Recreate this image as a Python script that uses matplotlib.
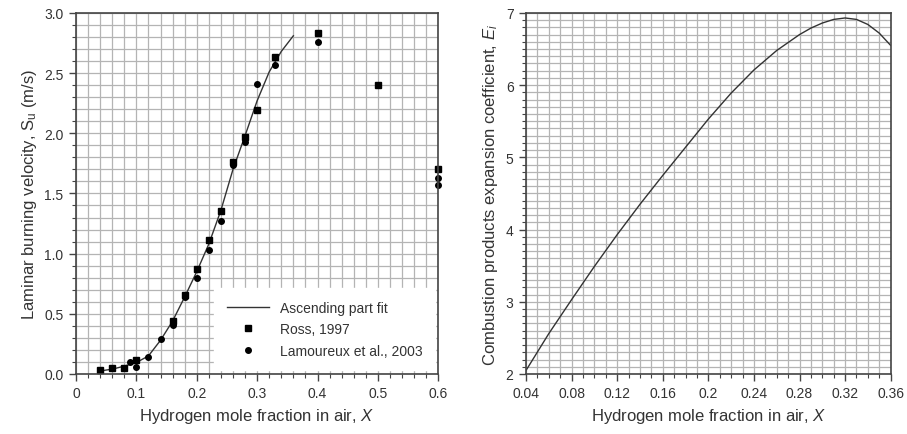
import numpy as np
import matplotlib.pyplot as plt
from matplotlib.ticker import MultipleLocator

plt.rcParams['font.family'] = 'Liberation Sans'
plt.rcParams['mathtext.fontset'] = 'custom'
plt.rcParams['mathtext.rm'] = 'Liberation Sans'
plt.rcParams['mathtext.it'] = 'Liberation Sans:italic'
plt.rcParams['text.color'] = '#333333'
plt.rcParams['axes.labelcolor'] = '#333333'
plt.rcParams['xtick.labelcolor'] = '#333333'
plt.rcParams['ytick.labelcolor'] = '#333333'

# left panel: laminar burning velocity
fit_x = [0.04, 0.06, 0.08, 0.10, 0.12, 0.14, 0.16, 0.18, 0.20, 0.22, 0.24, 0.26, 0.28, 0.30, 0.32, 0.34, 0.36]
fit_su = [0.025, 0.04, 0.065, 0.095, 0.15, 0.28, 0.44, 0.64, 0.85, 1.08, 1.36, 1.70, 1.98, 2.27, 2.51, 2.68, 2.81]

ross_x = [0.04, 0.06, 0.08, 0.10, 0.16, 0.18, 0.20, 0.22, 0.24, 0.26, 0.28, 0.30, 0.33, 0.40, 0.50, 0.60]
ross_su = [0.03, 0.05, 0.05, 0.115, 0.44, 0.66, 0.87, 1.11, 1.35, 1.76, 1.97, 2.19, 2.63, 2.83, 2.40, 1.70]

lam_x = [0.09, 0.10, 0.12, 0.14, 0.16, 0.18, 0.20, 0.22, 0.24, 0.26, 0.28, 0.30, 0.33, 0.40, 0.60, 0.60]
lam_su = [0.10, 0.06, 0.14, 0.29, 0.41, 0.64, 0.80, 1.03, 1.27, 1.74, 1.93, 2.41, 2.57, 2.76, 1.63, 1.57]

# right panel: expansion coefficient
ei_x = [0.04, 0.06, 0.08, 0.10, 0.12, 0.14, 0.16, 0.18, 0.20, 0.22, 0.24, 0.26, 0.28, 0.29, 0.30,
        0.31, 0.32, 0.33, 0.34, 0.35, 0.36]
ei = [2.05, 2.56, 3.03, 3.49, 3.93, 4.35, 4.75, 5.14, 5.53, 5.89, 6.21, 6.48, 6.70, 6.79, 6.86,
      6.91, 6.93, 6.91, 6.84, 6.72, 6.55]

grid_col = '#b4b4b4'
spine_col = '#444444'

fig = plt.figure(figsize=(9.07, 4.35), dpi=100)
ax1 = fig.add_axes([0.0838, 0.138, 0.3994, 0.83])
ax2 = fig.add_axes([0.58, 0.138, 0.402, 0.83])


def style(ax):
    ax.grid(which='both', color=grid_col, linewidth=0.9)
    ax.set_axisbelow(True)
    for s in ax.spines.values():
        s.set_color(spine_col)
        s.set_linewidth(1.2)
    ax.tick_params(which='major', direction='out', length=5, width=1, color=spine_col, labelsize=10, pad=4)
    ax.tick_params(which='minor', direction='out', length=3, width=0.8, color=spine_col)


ax1.plot(fit_x, fit_su, color='#333333', lw=1.0, label='Ascending part fit')
ax1.plot(ross_x, ross_su, 's', color='black', ms=4, label='Ross, 1997', clip_on=False)
ax1.plot(lam_x, lam_su, 'o', color='black', ms=4, label='Lamoureux et al., 2003', clip_on=False)
ax1.set_xlim(0, 0.6)
ax1.set_ylim(0, 3.0)
ax1.xaxis.set_minor_locator(MultipleLocator(0.02))
ax1.yaxis.set_minor_locator(MultipleLocator(0.1))
ax1.set_xticks([0, 0.1, 0.2, 0.3, 0.4, 0.5, 0.6])
ax1.set_xticklabels(['0', '0.1', '0.2', '0.3', '0.4', '0.5', '0.6'])
ax1.set_yticks([0, 0.5, 1.0, 1.5, 2.0, 2.5, 3.0])
ax1.set_yticklabels(['0.0', '0.5', '1.0', '1.5', '2.0', '2.5', '3.0'])
style(ax1)
ax1.set_xlabel('Hydrogen mole fraction in air, $X$', fontsize=12)
ax1.set_ylabel('Laminar burning velocity, S$_\\mathregular{u}$ (m/s)', fontsize=12)
leg = ax1.legend(loc='lower right', fontsize=10, frameon=True, fancybox=False,
                 edgecolor='white', framealpha=1, handlelength=3.0, handletextpad=0.8,
                 borderpad=0.9, borderaxespad=0.25, labelspacing=0.55)

ax2.plot(ei_x, ei, color='#333333', lw=1.0)
ax2.set_xlim(0.04, 0.36)
ax2.set_ylim(2, 7)
ax2.xaxis.set_minor_locator(MultipleLocator(0.01))
ax2.yaxis.set_major_locator(MultipleLocator(1))
ax2.yaxis.set_minor_locator(MultipleLocator(0.1))
ax2.set_xticks([0.04, 0.08, 0.12, 0.16, 0.2, 0.24, 0.28, 0.32, 0.36])
ax2.set_xticklabels(['0.04', '0.08', '0.12', '0.16', '0.2', '0.24', '0.28', '0.32', '0.36'])
style(ax2)
ax2.set_xlabel('Hydrogen mole fraction in air, $X$', fontsize=12)
ax2.set_ylabel('Combustion products expansion coefficient, $E_i$', fontsize=12)

fig.savefig('out.png', dpi=100)
